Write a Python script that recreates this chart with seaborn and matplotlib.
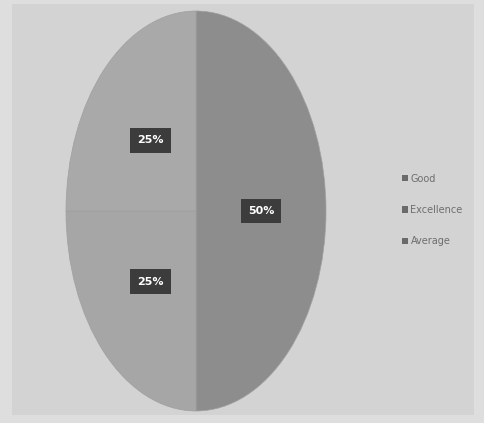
import matplotlib
matplotlib.use("Agg")
import matplotlib.pyplot as plt
from matplotlib.patches import Rectangle
import seaborn as sns

categories = ["Good", "Excellence", "Average"]
values = [50, 25, 25]
colors = ["#8d8d8d", "#a6a6a6", "#a9a9a9"]

sns.set_theme(style="white")
plt.rcParams['font.family'] = ['DejaVu Sans']

W, H = 485, 423
fig = plt.figure(figsize=(W / 100, H / 100), dpi=100, facecolor="#dedede")
fig.patches.append(Rectangle((12 / W, 8 / H), 462 / W, 411 / H, transform=fig.transFigure,
                             facecolor="#d3d3d3", edgecolor="none", zorder=-10))

ax = fig.add_axes([66 / W, 12 / H, 260 / W, 400 / H])
ax.set_zorder(5)
ax.set_facecolor("none")
wedges, texts, autotexts = ax.pie(values, colors=colors, startangle=90, counterclock=False,
                                  autopct="%d%%", pctdistance=0.5,
                                  wedgeprops=dict(linewidth=0.5, edgecolor="#a0a0a0"))
for t in autotexts:
    t.set_color("white")
    t.set_fontsize(8)
    t.set_fontweight("bold")
    t.set_bbox(dict(boxstyle="square,pad=0.65", facecolor="#3c3c3c", edgecolor="none"))
ax.set_aspect("auto")
ax.set_xlim(-1, 1)
ax.set_ylim(-1, 1)
ax.axis("off")

leg = fig.legend(wedges, categories, loc="center left", bbox_to_anchor=(393 / W, 1 - 210 / H),
                 frameon=False, fontsize=7, labelspacing=2.2, handlelength=0.6,
                 handleheight=0.6, handletextpad=0.3, labelcolor="#6e6e6e")
leg.set_zorder(6)
for h in leg.legend_handles:
    h.set_edgecolor("none")
    h.set_facecolor("#6a6a6a")

fig.savefig("out.png", dpi=100, facecolor=fig.get_facecolor())
